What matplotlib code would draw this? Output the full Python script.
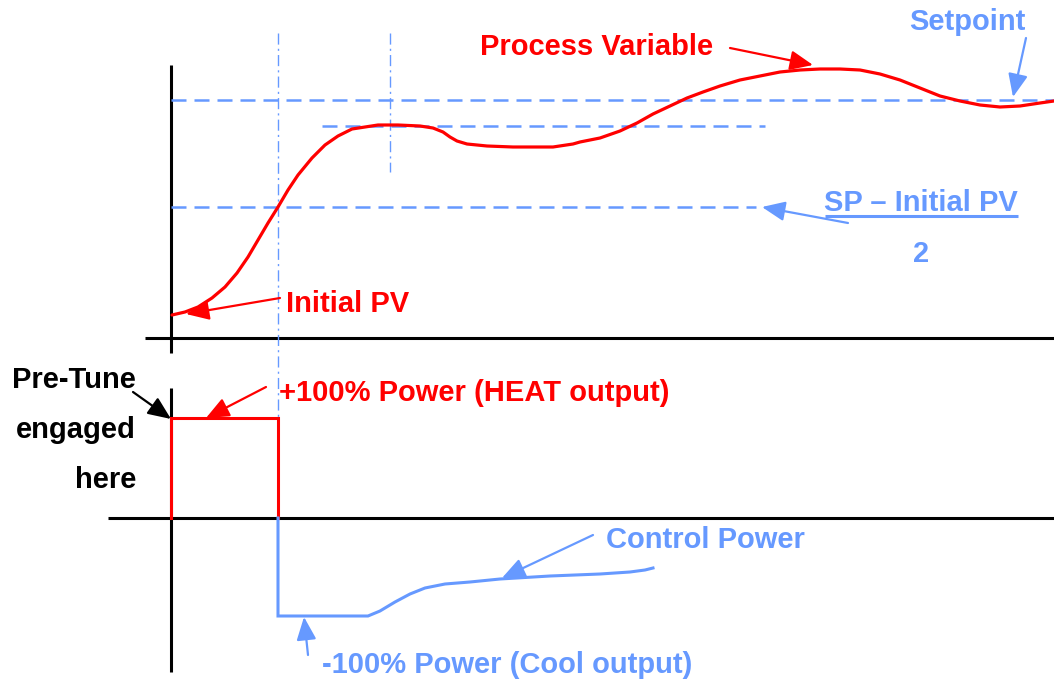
import matplotlib
matplotlib.use("Agg")
import matplotlib.pyplot as plt

RED = "#FF0000"
BLUE = "#6699FF"
BLACK = "#000000"

# Process variable trace (time, level), screen units with y growing downward
pv_t = [172, 185, 198, 212, 225, 237, 248, 258, 268, 278, 288, 298, 312, 325,
        338, 352, 365, 378, 398, 420, 433, 443, 450, 457, 467, 487, 513, 533,
        553, 573, 580, 600, 620, 637, 653, 670, 687, 703, 720, 740, 760, 780,
        800, 820, 840, 860, 880, 900, 920, 940, 960, 980, 1000, 1020, 1040, 1054]
pv_y = [315, 312, 307, 298, 287, 273, 257, 240, 223, 207, 190, 175, 158, 145,
        136, 129, 127, 125, 125, 126, 128, 132, 137, 141, 144, 146, 147, 147,
        147, 144, 142, 138, 131, 123, 114, 106, 98, 92, 86, 80, 76, 72,
        70, 69, 69, 70, 74, 80, 88, 96, 101, 105, 107, 106, 103, 101]

# Heat output step and cooling / control power trace
heat_t = [171, 171, 278, 278]
heat_y = [518, 418, 418, 518]
cool_t = [278, 278, 368, 380, 395, 410, 425, 445, 470, 500, 550, 600, 630, 645, 653]
cool_y = [518, 616, 616, 611, 602, 594, 588, 584, 582, 579, 576, 574, 572, 570, 568]

# Reference levels
setpoint_y = 100
peak_y = 126
half_y = 207
tune_t1 = 278
tune_t2 = 390

fig = plt.figure(figsize=(10.54, 6.81), dpi=100)
ax = fig.add_axes([0, 0, 1, 1])
ax.set_xlim(0, 1054)
ax.set_ylim(681, 0)
ax.axis("off")

# axes of both panels
ax.plot([171, 171], [65, 353], color=BLACK, lw=2.2, solid_capstyle="butt")
ax.plot([145, 1054], [338, 338], color=BLACK, lw=2.2, solid_capstyle="butt")
ax.plot([171, 171], [388, 672], color=BLACK, lw=2.2, solid_capstyle="butt")
ax.plot([108, 1054], [518, 518], color=BLACK, lw=2.2, solid_capstyle="butt")

# dashed reference levels
ax.plot([171, 1054], [setpoint_y, setpoint_y], color=BLUE, lw=1.8, dashes=(6, 3.2))
ax.plot([322, 765], [peak_y, peak_y], color=BLUE, lw=1.8, dashes=(6, 3.2))
ax.plot([171, 756], [half_y, half_y], color=BLUE, lw=1.8, dashes=(6, 3.2))

# dash-dot time markers
ax.plot([tune_t1, tune_t1], [33, 518], color=BLUE, lw=1.0, dashes=(8, 3, 1.5, 3))
ax.plot([tune_t2, tune_t2], [33, 172], color=BLUE, lw=1.0, dashes=(8, 3, 1.5, 3))

# traces
ax.plot(pv_t, pv_y, color=RED, lw=2.3, solid_joinstyle="round", solid_capstyle="round")
ax.plot(heat_t, heat_y, color=RED, lw=2.2, solid_joinstyle="miter")
ax.plot(cool_t, cool_y, color=BLUE, lw=2.2, solid_joinstyle="miter")

FONT = dict(family="Liberation Sans", fontweight="bold", fontsize=21)


def label(x, y, s, color, ha="left"):
    return ax.text(x, y, s, color=color, ha=ha, va="baseline", **FONT)


def arrow(tail, head, color, lw=1.6, hl=0.7, hw=0.3):
    ax.annotate("", xy=head, xytext=tail,
                arrowprops=dict(arrowstyle=f"-|>,head_length={hl},head_width={hw}",
                                color=color, lw=lw, shrinkA=0, shrinkB=0,
                                mutation_scale=20))


label(480, 55, "Process Variable", RED)
arrow((730, 48), (813, 65), RED)

label(909, 30, "Setpoint", BLUE)
arrow((1026, 38), (1013, 97), BLUE)

sp_txt = label(824, 211, "SP \u2013 Initial PV", BLUE)
label(921, 262, "2", BLUE, ha="center")
arrow((848, 223), (762, 207), BLUE)

label(286, 312, "Initial PV", RED)
arrow((280, 298), (186, 314), RED)

for txt, base in [("Pre-Tune", 388), ("engaged", 438), ("here", 488)]:
    label(136, base, txt, BLACK, ha="right")
arrow((133, 392), (171, 419), BLACK)

label(279, 401, "+100% Power (HEAT output)", RED)
arrow((266, 387), (206, 418), RED)

label(606, 548, "Control Power", BLUE)
arrow((593, 535), (502, 578), BLUE)

label(322, 673, "-100% Power (Cool output)", BLUE)
arrow((308, 655), (304, 617), BLUE)

# underline the fraction numerator
fig.canvas.draw()
bb = sp_txt.get_window_extent(renderer=fig.canvas.get_renderer())
inv = ax.transData.inverted()
(x0, _), (x1, _) = inv.transform([(bb.x0, bb.y0), (bb.x1, bb.y0)])
ax.plot([x0 + 1, x1], [216, 216], color=BLUE, lw=2.2, solid_capstyle="butt")

fig.savefig("out.png", dpi=100)
